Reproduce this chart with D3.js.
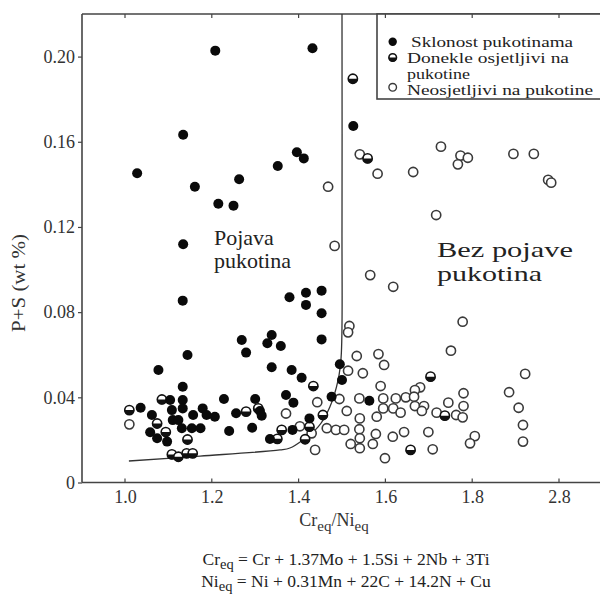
<!DOCTYPE html>
<html><head><meta charset="utf-8">
<script src="https://cdn.jsdelivr.net/npm/d3@7"></script>
<style>
html,body{margin:0;padding:0;background:#fff;}
svg{display:block;}
svg text{font-family:'Liberation Serif','Times New Roman',Times,serif;}
</style></head>
<body>
<svg id="chart" width="600" height="597" font-family="Liberation Serif"></svg>
<script>
// ---------- data ----------
const xTickValues = [1.0, 1.2, 1.4, 1.6, 1.8, 2.0];
const xTickLabels = ["1.0", "1.2", "1.4", "1.6", "1.8", "2.8"];
const yTickValues = [0, 0.04, 0.08, 0.12, 0.16, 0.20];
const yTickLabels = ["0", "0.04", "0.08", "0.12", "0.16", "0.20"];

// Sklonost pukotinama (filled)
const sklonost = [
 [1.208,0.2028],[1.432,0.2039],[1.134,0.1633],[1.028,0.1452],[1.161,0.1389],[1.263,0.1424],
 [1.215,0.1309],[1.250,0.1300],[1.352,0.1486],[1.396,0.1551],[1.412,0.1522],[1.134,0.1119],
 [1.526,0.1674],[1.133,0.0854],[1.379,0.0870],[1.417,0.0891],[1.453,0.0901],[1.417,0.0834],
 [1.453,0.0795],[1.453,0.0672],[1.359,0.0641],[1.338,0.0693],[1.328,0.0654],[1.269,0.0669],
 [1.279,0.0610],[1.144,0.0599],[1.077,0.0528],[1.338,0.0541],[1.384,0.0528],[1.407,0.0492],
 [1.371,0.0411],[1.388,0.0375],[1.425,0.0301],[1.386,0.0247],[1.495,0.0555],[1.500,0.0481],
 [1.476,0.0403],[1.563,0.0384],[1.133,0.0450],[1.036,0.0351],[1.104,0.0387],[1.133,0.0387],
 [1.108,0.0340],[1.133,0.0348],[1.062,0.0317],[1.157,0.0317],[1.179,0.0348],[1.110,0.0293],
 [1.123,0.0293],[1.131,0.0255],[1.154,0.0255],[1.174,0.0255],[1.058,0.0236],[1.074,0.0208],
 [1.097,0.0192],[1.228,0.0392],[1.300,0.0392],[1.188,0.0317],[1.207,0.0309],[1.256,0.0325],
 [1.311,0.0336],[1.315,0.0314],[1.240,0.0242],[1.293,0.0257],[1.334,0.0204]
];
// Donekle osjetljivi na pukotine (half filled)
const donekle = [
 [1.525,0.1896],[1.559,0.1522],[1.434,0.0453],[1.704,0.0497],[1.456,0.0317],[1.425,0.0262],
 [1.415,0.0203],[1.658,0.0153],[1.737,0.0314],[1.010,0.0340],[1.085,0.0390],[1.074,0.0277],
 [1.094,0.0237],[1.144,0.0202],[1.108,0.0132],[1.123,0.0121],[1.142,0.0137],[1.156,0.0137],
 [1.279,0.0333],[1.307,0.0348],[1.351,0.0205],[1.361,0.0247]
];
// Neosjetljivi na pukotine (open)
const neosjetljivi = [
 [1.468,0.1389],[1.483,0.1111],[1.541,0.1541],[1.582,0.1450],[1.664,0.1458],[1.728,0.1577],
 [1.773,0.1535],[1.790,0.1525],[1.767,0.1494],[1.895,0.1543],[1.942,0.1543],[1.975,0.1421],
 [1.982,0.1408],[1.717,0.1256],[1.565,0.0974],[1.618,0.0919],[1.778,0.0755],[1.517,0.0735],
 [1.514,0.0705],[1.751,0.0619],[1.534,0.0594],[1.584,0.0603],[1.597,0.0552],[1.514,0.0525],
 [1.548,0.0513],[1.589,0.0453],[1.680,0.0447],[1.668,0.0434],[1.780,0.0419],[1.443,0.0377],
 [1.494,0.0392],[1.540,0.0395],[1.595,0.0395],[1.624,0.0395],[1.647,0.0400],[1.666,0.0403],
 [1.745,0.0375],[1.780,0.0359],[1.371,0.0324],[1.511,0.0336],[1.595,0.0348],[1.618,0.0348],
 [1.635,0.0328],[1.668,0.0359],[1.689,0.0359],[1.684,0.0336],[1.718,0.0328],[1.763,0.0317],
 [1.778,0.0306],[1.580,0.0309],[1.541,0.0301],[1.403,0.0264],[1.465,0.0255],[1.486,0.0247],
 [1.505,0.0247],[1.540,0.0250],[1.430,0.0231],[1.541,0.0208],[1.578,0.0228],[1.617,0.0215],
 [1.643,0.0237],[1.699,0.0237],[1.520,0.0181],[1.541,0.0161],[1.571,0.0181],[1.438,0.0153],
 [1.709,0.0156],[1.599,0.0114],[1.806,0.0218],[1.795,0.0184],[1.922,0.0510],[1.885,0.0424],
 [1.907,0.0351],[1.917,0.0270],[1.917,0.0192],[1.010,0.0273]
];
// boundary line
const boundary = [
 [1.009,0.0101],[1.173,0.0124],[1.357,0.0153],[1.380,0.0162],[1.410,0.0200],[1.445,0.0261],
 [1.472,0.0355],[1.491,0.0481],[1.498,0.0589],[1.500,0.12],[1.500,0.22]
];
const legendLabels = [["Sklonost pukotinama"], ["Donekle osjetljivi na", "pukotine"], ["Neosjetljivi na pukotine"]];

// ---------- layout ----------
const FONT = "Liberation Serif, Times New Roman, serif";
const svg = d3.select("#chart");
const L = 82, R = 602, T = 14, B = 482.5;
const x = d3.scaleLinear().domain([1.0, 2.0]).range([125, 559]);
const y = d3.scaleLinear().domain([0, 0.22]).range([B, T]);
const axisColor = "#444";
const textColor = "#333";

// frame
svg.append("line").attr("x1", L).attr("x2", L).attr("y1", T).attr("y2", B).attr("stroke", axisColor).attr("stroke-width", 1.6);
svg.append("line").attr("x1", L).attr("x2", R).attr("y1", B).attr("y2", B).attr("stroke", axisColor).attr("stroke-width", 1.6);
svg.append("line").attr("x1", L).attr("x2", R).attr("y1", T).attr("y2", T).attr("stroke", axisColor).attr("stroke-width", 1.6);

// axes
const xAxis = d3.axisBottom(x).tickValues(xTickValues).tickSize(0).tickFormat((d, i) => xTickLabels[i]);
const gx = svg.append("g").attr("transform", `translate(0,${B})`).call(xAxis);
gx.attr("font-family", FONT);
gx.select(".domain").remove();
gx.selectAll("text").attr("font-size", 18).attr("fill", textColor).attr("font-family", FONT).attr("dy", "0.95em");
svg.append("g").selectAll("line").data(xTickValues).join("line")
  .attr("x1", d => x(d)).attr("x2", d => x(d)).attr("y1", B).attr("y2", B - 4)
  .attr("stroke", axisColor).attr("stroke-width", 1.2);
svg.append("g").selectAll("line").data(xTickValues).join("line")
  .attr("x1", d => x(d)).attr("x2", d => x(d)).attr("y1", T).attr("y2", T + 4)
  .attr("stroke", axisColor).attr("stroke-width", 1.2);

const yAxis = d3.axisLeft(y).tickValues(yTickValues).tickSize(4).tickPadding(3).tickFormat((d, i) => yTickLabels[i]);
const gy = svg.append("g").attr("transform", `translate(${L},0)`).call(yAxis);
gy.attr("font-family", FONT);
gy.select(".domain").remove();
gy.selectAll(".tick line").attr("stroke", axisColor).attr("stroke-width", 1.2);
gy.selectAll("text").attr("font-size", 18).attr("fill", textColor).attr("font-family", FONT);

// boundary line
const line = d3.line().x(d => x(d[0])).y(d => y(d[1])).curve(d3.curveCatmullRom.alpha(0.5));
svg.append("path").datum(boundary).attr("d", line).attr("fill", "none").attr("stroke", "#333").attr("stroke-width", 1.3);

// points
const r = 5;
svg.append("g").selectAll("circle").data(neosjetljivi).join("circle")
  .attr("cx", d => x(d[0])).attr("cy", d => y(d[1])).attr("r", r - 0.4)
  .attr("fill", "#fff").attr("stroke", "#3a3a3a").attr("stroke-width", 1.6);

function halfSymbol(g, cx, cy, rr) {
  g.append("circle").attr("cx", cx).attr("cy", cy).attr("r", rr - 0.4)
    .attr("fill", "#fff").attr("stroke", "#111").attr("stroke-width", 1.6);
  g.append("path")
    .attr("d", `M${cx - rr},${cy} A${rr},${rr} 0 0 0 ${cx + rr},${cy} Z`)
    .attr("fill", "#111");
}
const gh = svg.append("g");
donekle.forEach(d => halfSymbol(gh, x(d[0]), y(d[1]), r));

svg.append("g").selectAll("circle").data(sklonost).join("circle")
  .attr("cx", d => x(d[0])).attr("cy", d => y(d[1])).attr("r", r)
  .attr("fill", "#0a0a0a");

// region labels
const lab = svg.append("g").attr("font-size", 22).attr("fill", "#222").attr("font-family", FONT);
lab.append("text").attr("x", 214).attr("y", 245).attr("font-family", FONT).text("Pojava");
lab.append("text").attr("x", 214).attr("y", 268).attr("font-family", FONT).text("pukotina");
lab.append("text").attr("x", 437).attr("y", 257).attr("font-family", FONT).attr("textLength", 136).attr("lengthAdjust", "spacingAndGlyphs").text("Bez pojave");
lab.append("text").attr("x", 437).attr("y", 281).attr("font-family", FONT).attr("textLength", 105).attr("lengthAdjust", "spacingAndGlyphs").text("pukotina");

// legend
const lg = svg.append("g");
lg.append("rect").attr("x", 377).attr("y", T).attr("width", 240).attr("height", 85)
  .attr("fill", "#fff").attr("stroke", axisColor).attr("stroke-width", 1.6);
lg.selectAll("line").data(xTickValues.filter(v => x(v) > 377)).join("line")
  .attr("x1", d => x(d)).attr("x2", d => x(d)).attr("y1", T).attr("y2", T + 4)
  .attr("stroke", axisColor).attr("stroke-width", 1.2);
const lr = 4.2;
lg.append("circle").attr("cx", 392.7).attr("cy", 41.7).attr("r", lr).attr("fill", "#0a0a0a");
halfSymbol(lg, 392.7, 57.5, lr);
lg.append("circle").attr("cx", 392.7).attr("cy", 87.3).attr("r", lr - 0.4).attr("fill", "#fff").attr("stroke", "#3a3a3a").attr("stroke-width", 1.4);
const lt = lg.append("g").attr("font-size", 15).attr("fill", "#222").attr("font-family", FONT);
lt.append("text").attr("x", 411).attr("y", 46.5).attr("font-family", FONT).attr("textLength", 162).attr("lengthAdjust", "spacingAndGlyphs").text(legendLabels[0][0]);
lt.append("text").attr("x", 407).attr("y", 62.5).attr("font-family", FONT).attr("textLength", 162).attr("lengthAdjust", "spacingAndGlyphs").text(legendLabels[1][0]);
lt.append("text").attr("x", 407).attr("y", 78.5).attr("font-family", FONT).attr("textLength", 63).attr("lengthAdjust", "spacingAndGlyphs").text(legendLabels[1][1]);
lt.append("text").attr("x", 407).attr("y", 94.5).attr("font-family", FONT).attr("textLength", 186).attr("lengthAdjust", "spacingAndGlyphs").text(legendLabels[2][0]);

// y axis title
svg.append("text").attr("transform", "translate(25,283) rotate(-90)").attr("text-anchor", "middle")
  .attr("font-size", 18).attr("fill", textColor).attr("font-family", FONT)
  .attr("textLength", 98).attr("lengthAdjust", "spacingAndGlyphs").text("P+S (wt %)");

// x axis title with subscripts
const xt = svg.append("text").attr("x", 334).attr("y", 526).attr("text-anchor", "middle").attr("font-size", 18).attr("fill", textColor).attr("font-family", FONT);
xt.append("tspan").text("Cr");
xt.append("tspan").attr("dy", 5).attr("font-size", 15).text("eq");
xt.append("tspan").attr("dy", -5).text("/Ni");
xt.append("tspan").attr("dy", 5).attr("font-size", 15).text("eq");

// formulas
function formula(yPos, a, sub, rest) {
  const t = svg.append("text").attr("x", 346).attr("y", yPos).attr("text-anchor", "middle").attr("font-size", 17.5).attr("fill", "#222").attr("font-family", FONT);
  t.append("tspan").text(a);
  t.append("tspan").attr("dy", 4).attr("font-size", 14.5).text(sub);
  t.append("tspan").attr("dy", -4).text(rest);
}
formula(565, "Cr", "eq", " = Cr + 1.37Mo + 1.5Si + 2Nb + 3Ti");
formula(587, "Ni", "eq", " = Ni + 0.31Mn + 22C + 14.2N + Cu");
</script>
</body></html>
